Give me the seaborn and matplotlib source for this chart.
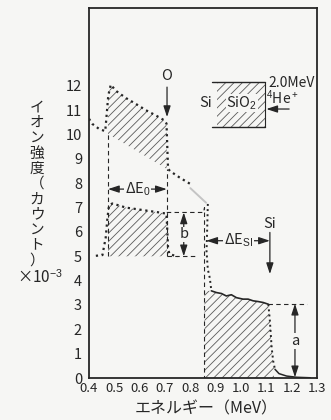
import numpy as np
import matplotlib
matplotlib.use("Agg")
import matplotlib.pyplot as plt
import seaborn as sns

# spectrum: energy (MeV) vs counts (x10^-3)
upper_e = [0.400, 0.413, 0.440, 0.464, 0.468, 0.472, 0.476, 0.486, 0.506, 0.546,
           0.585, 0.625, 0.665, 0.698, 0.706, 0.709, 0.712, 0.720, 0.757, 0.800]
upper_c = [10.65, 10.44, 10.23, 10.14, 10.60, 11.10, 11.60, 12.05, 11.80, 11.50,
           11.26, 11.00, 10.78, 10.58, 10.45, 9.50, 8.60, 8.50, 8.24, 7.97]
gray_e = [0.800, 0.862]
gray_c = [7.80, 7.20]

lower_e = [0.427, 0.453, 0.466, 0.473, 0.479, 0.492, 0.546, 0.612, 0.678, 0.706,
           0.712, 0.717, 0.750]
lower_c = [5.02, 5.05, 5.77, 6.60, 7.08, 7.17, 7.00, 6.90, 6.80, 6.75,
           5.36, 5.10, 4.98]

si_edge_e = [0.869, 0.868, 0.864, 0.869, 0.877, 0.883]
si_edge_c = [7.15, 6.70, 5.20, 4.47, 4.10, 3.58]

si_e = [0.883, 0.903, 0.923, 0.942, 0.962, 0.982, 1.008, 1.028, 1.048, 1.068,
        1.088, 1.108, 1.114, 1.121, 1.127, 1.134, 1.150, 1.180, 1.220, 1.273]
si_c = [3.58, 3.51, 3.47, 3.37, 3.42, 3.30, 3.24, 3.24, 3.17, 3.14,
        3.10, 3.03, 2.35, 1.25, 0.70, 0.36, 0.18, 0.08, 0.03, 0.01]

# construction levels
o_lo, o_hi = 0.475, 0.707
upper_base = [10.03, 8.59]
o_base = 5.0
b_top = 6.8
si_lo, si_hi = 0.856, 1.13
a_top = 3.05

xticks = [0.4, 0.5, 0.6, 0.7, 0.8, 0.9, 1.0, 1.1, 1.2, 1.3]
xlabels = ["0.4", "0.5", "0.6", "0.7", "0.8", "0.9", "1.0", "1.1", "1.2", "1.3"]
yticks = list(range(13))

ink = "#262626"
hatch_c = "#5a5a5a"
bg = "#f6f6f4"

sns.set_theme(style="white")
plt.rcParams["font.family"] = ["Liberation Sans Narrow", "Noto Sans CJK JP", "DejaVu Sans"]
plt.rcParams["mathtext.fontset"] = "custom"
plt.rcParams["mathtext.rm"] = "Liberation Sans"
plt.rcParams["mathtext.it"] = "Liberation Sans"
plt.rcParams["hatch.linewidth"] = 0.6

fig = plt.figure(figsize=(3.31, 4.20), dpi=100, facecolor=bg)
ax = fig.add_axes([89 / 331, 42 / 420, 228 / 331, 370 / 420], facecolor=bg)


def band(x, y, lo, hi):
    xs = np.array([lo] + [v for v in x if lo < v < hi] + [hi])
    return xs, np.interp(xs, x, y)


# hatched areas
xs, top = band(upper_e, upper_c, o_lo, o_hi)
ax.fill_between(xs, np.interp(xs, [o_lo, o_hi], upper_base), top,
                facecolor="none", edgecolor=hatch_c, lw=0, hatch="////")
xs, top = band(lower_e, lower_c, o_lo, o_hi)
ax.fill_between(xs, o_base, top, facecolor="none", edgecolor=hatch_c, lw=0, hatch="////")
xs, top = band(si_e, si_c, si_lo, si_hi)
ax.fill_between(xs, 0, top, facecolor="none", edgecolor=hatch_c, lw=0, hatch="////")

# curves
sns.lineplot(x=upper_e, y=upper_c, ax=ax, color=ink, lw=1.6, linestyle=":",
             sort=False, estimator=None)
sns.lineplot(x=gray_e, y=gray_c, ax=ax, color="#c4c4c4", lw=1.4, sort=False, estimator=None)
sns.lineplot(x=lower_e, y=lower_c, ax=ax, color=ink, lw=1.6, linestyle=":",
             sort=False, estimator=None)
sns.lineplot(x=si_edge_e, y=si_edge_c, ax=ax, color=ink, lw=1.4, linestyle=":",
             sort=False, estimator=None)
sns.lineplot(x=si_e[:12], y=si_c[:12], ax=ax, color=ink, lw=1.2, sort=False, estimator=None)
sns.lineplot(x=si_e[11:16], y=si_c[11:16], ax=ax, color=ink, lw=1.4, linestyle=":",
             sort=False, estimator=None)
sns.lineplot(x=si_e[15:], y=si_c[15:], ax=ax, color=ink, lw=1.1, sort=False, estimator=None)

# dashed construction lines
dash = dict(color=ink, lw=0.8, dashes=(4, 3))
ax.plot([o_lo, o_lo], [o_base, upper_base[0]], **dash)
ax.plot([o_hi, o_hi], [o_base, upper_base[1]], **dash)
ax.plot([o_hi, 0.823], [o_base, o_base], **dash)
ax.plot([o_hi, 0.852, si_lo, si_lo], [b_top, b_top, 7.0, 0], **dash)
ax.plot([1.108, 1.262], [a_top, a_top], **dash)

# arrows and labels
dbl = dict(arrowstyle="<|-|>,head_length=0.55,head_width=0.18", color=ink, lw=0.9,
           shrinkA=0, shrinkB=0)
one = dict(arrowstyle="-|>,head_length=0.55,head_width=0.18", color=ink, lw=0.9,
           shrinkA=0, shrinkB=0)
ax.annotate("", xy=(o_lo, 7.76), xytext=(o_hi, 7.76), arrowprops=dbl)
ax.text(0.591, 7.76, "ΔE$_0$", ha="center", va="center", fontsize=10.5, color=ink,
        bbox=dict(fc=bg, ec="none", pad=0.5))
ax.annotate("", xy=(0.774, o_base), xytext=(0.774, b_top), arrowprops=dbl)
ax.text(0.774, 5.9, "b", ha="center", va="center", fontsize=10.5, color=ink,
        bbox=dict(fc=bg, ec="none", pad=0.5))
ax.annotate("", xy=(0.863, 5.64), xytext=(1.114, 5.64), arrowprops=dbl)
ax.text(0.99, 5.64, "ΔE$_{\\mathrm{SI}}$", ha="center", va="center", fontsize=10.5,
        color=ink, bbox=dict(fc=bg, ec="none", pad=0.5))
ax.annotate("", xy=(1.213, 0.03), xytext=(1.213, a_top), arrowprops=dbl)
ax.text(1.213, 1.52, "a", ha="center", va="center", fontsize=10.5, color=ink,
        bbox=dict(fc=bg, ec="none", pad=0.5))
ax.text(1.114, 6.33, "Si", ha="center", va="center", fontsize=10.5, color=ink)
ax.annotate("", xy=(1.114, 4.27), xytext=(1.114, 5.98), arrowprops=one)
ax.text(0.708, 12.4, "O", ha="center", va="center", fontsize=10.5, color=ink)
ax.annotate("", xy=(0.708, 10.72), xytext=(0.708, 11.95), arrowprops=one)

# sample sketch: Si substrate with SiO2 layer
ax.plot([0.887, 1.096], [12.15, 12.15], color=ink, lw=1.0)
ax.plot([0.887, 1.096], [10.30, 10.30], color=ink, lw=1.0)
ax.fill_between([0.906, 1.096], 10.30, 12.15, facecolor="none", edgecolor=hatch_c,
                lw=0, hatch="////")
ax.plot([1.096, 1.096], [10.30, 12.15], color=ink, lw=0.8)
ax.text(0.86, 11.3, "Si", ha="center", va="center", fontsize=10.5, color=ink)
ax.text(1.003, 11.3, "SiO$_2$", ha="center", va="center", fontsize=10.5, color=ink,
        bbox=dict(fc=bg, ec="none", pad=0.5))
ax.text(1.2, 12.12, "2.0MeV", ha="center", va="center", fontsize=10, color=ink)
ax.text(1.165, 11.5, "$^4$He$^+$", ha="center", va="center", fontsize=10, color=ink)
ax.annotate("", xy=(1.10, 11.05), xytext=(1.19, 11.05), arrowprops=one)

# axes styling
ax.set_xlim(0.4, 1.3)
ax.set_ylim(0, 15.2)
ax.set_xticks(xticks, xlabels)
ax.set_yticks(yticks)
ax.tick_params(direction="in", length=3, width=0.8, colors=ink)
ax.tick_params(axis="x", labelsize=9.5, pad=3)
ax.tick_params(axis="y", labelsize=10.5, pad=5)
for s in ax.spines.values():
    s.set_color(ink)
    s.set_linewidth(1.3)

# vertical Japanese y label, one glyph per row
fig.text(37 / 331, 1 - 184 / 420, "\n".join("イオン強度（カウント）"), ha="center",
         va="center", ma="center", fontsize=10.5, linespacing=1.12, color=ink,
         family=["Noto Sans CJK JP", "DejaVu Sans"])
fig.text(40 / 331, 1 - 278 / 420, "×10$^{-3}$", ha="center", va="center",
         fontsize=11, color=ink)
fig.text(206 / 331, 1 - 409 / 420, "エネルギー（MeV）", ha="center", va="center",
         fontsize=11.5, color=ink, family=["Noto Sans CJK JP", "DejaVu Sans"])

fig.savefig("out.png", dpi=100, facecolor=bg)
